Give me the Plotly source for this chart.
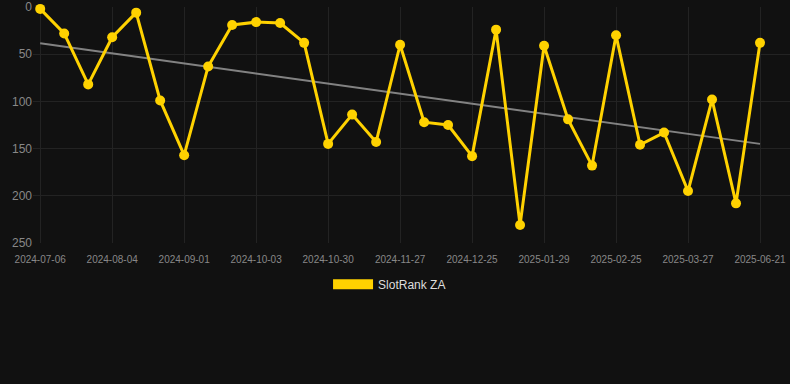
import plotly.graph_objects as go

dates = [
    "2024-07-06", "2024-07-15", "2024-07-24", "2024-08-04", "2024-08-13",
    "2024-08-22", "2024-09-01", "2024-09-12", "2024-09-22", "2024-10-03",
    "2024-10-12", "2024-10-21", "2024-10-30", "2024-11-08", "2024-11-18",
    "2024-11-27", "2024-12-06", "2024-12-15", "2024-12-25", "2025-01-06",
    "2025-01-17", "2025-01-29", "2025-02-07", "2025-02-16", "2025-02-25",
    "2025-03-07", "2025-03-17", "2025-03-27", "2025-04-25", "2025-05-23",
    "2025-06-21",
]
ranks = [2, 28, 82, 32, 6, 99, 157, 63, 19, 16, 17, 38, 145, 114, 143,
         40, 122, 125, 158, 24, 231, 41, 119, 168, 30, 146, 133, 195, 98, 208, 38]
trend_ends = [38.5, 145]
series_name = "SlotRank ZA"

gold = "#FFD200"
fig = go.Figure()
fig.add_trace(go.Scatter(
    x=[dates[0], dates[-1]], y=trend_ends, mode="lines",
    line=dict(color="rgba(150,150,150,0.85)", width=2),
    showlegend=False, hoverinfo="skip"))
fig.add_trace(go.Scatter(
    x=dates, y=ranks, mode="lines+markers",
    line=dict(color=gold, width=3),
    marker=dict(color=gold, size=10),
    cliponaxis=False, showlegend=False, name=series_name))
fig.add_trace(go.Scatter(
    x=[None], y=[None], mode="lines",
    line=dict(color=gold, width=12), name=series_name))

fig.update_layout(
    width=790, height=384,
    paper_bgcolor="#111111", plot_bgcolor="#111111",
    margin=dict(l=33, r=0, t=7, b=141),
    font=dict(family="Liberation Sans, Arial, sans-serif", color="#888888"),
    legend=dict(orientation="h", x=0.471, xanchor="center", y=-0.113, yanchor="top",
                font=dict(size=12, color="#dddddd"), itemwidth=40),
)
fig.update_xaxes(
    type="category", categoryorder="array", categoryarray=dates,
    range=[-0.3, 31.25],
    tickvals=dates[::3], ticktext=dates[::3],
    tickfont=dict(size=10, color="#888888"),
    showgrid=True, gridcolor="#232323", zeroline=False, showline=False,
    ticks="", ticklen=0, ticklabelstandoff=9)
fig.update_yaxes(
    range=[250, 0], tickvals=[0, 50, 100, 150, 200, 250],
    tickfont=dict(size=12, color="#888888"),
    showgrid=True, gridcolor="#232323", zeroline=False, showline=False,
    ticks="", ticklen=0)

fig.write_html("out.html", config={"displayModeBar": False},
               post_script="document.body.style.margin='0';")
